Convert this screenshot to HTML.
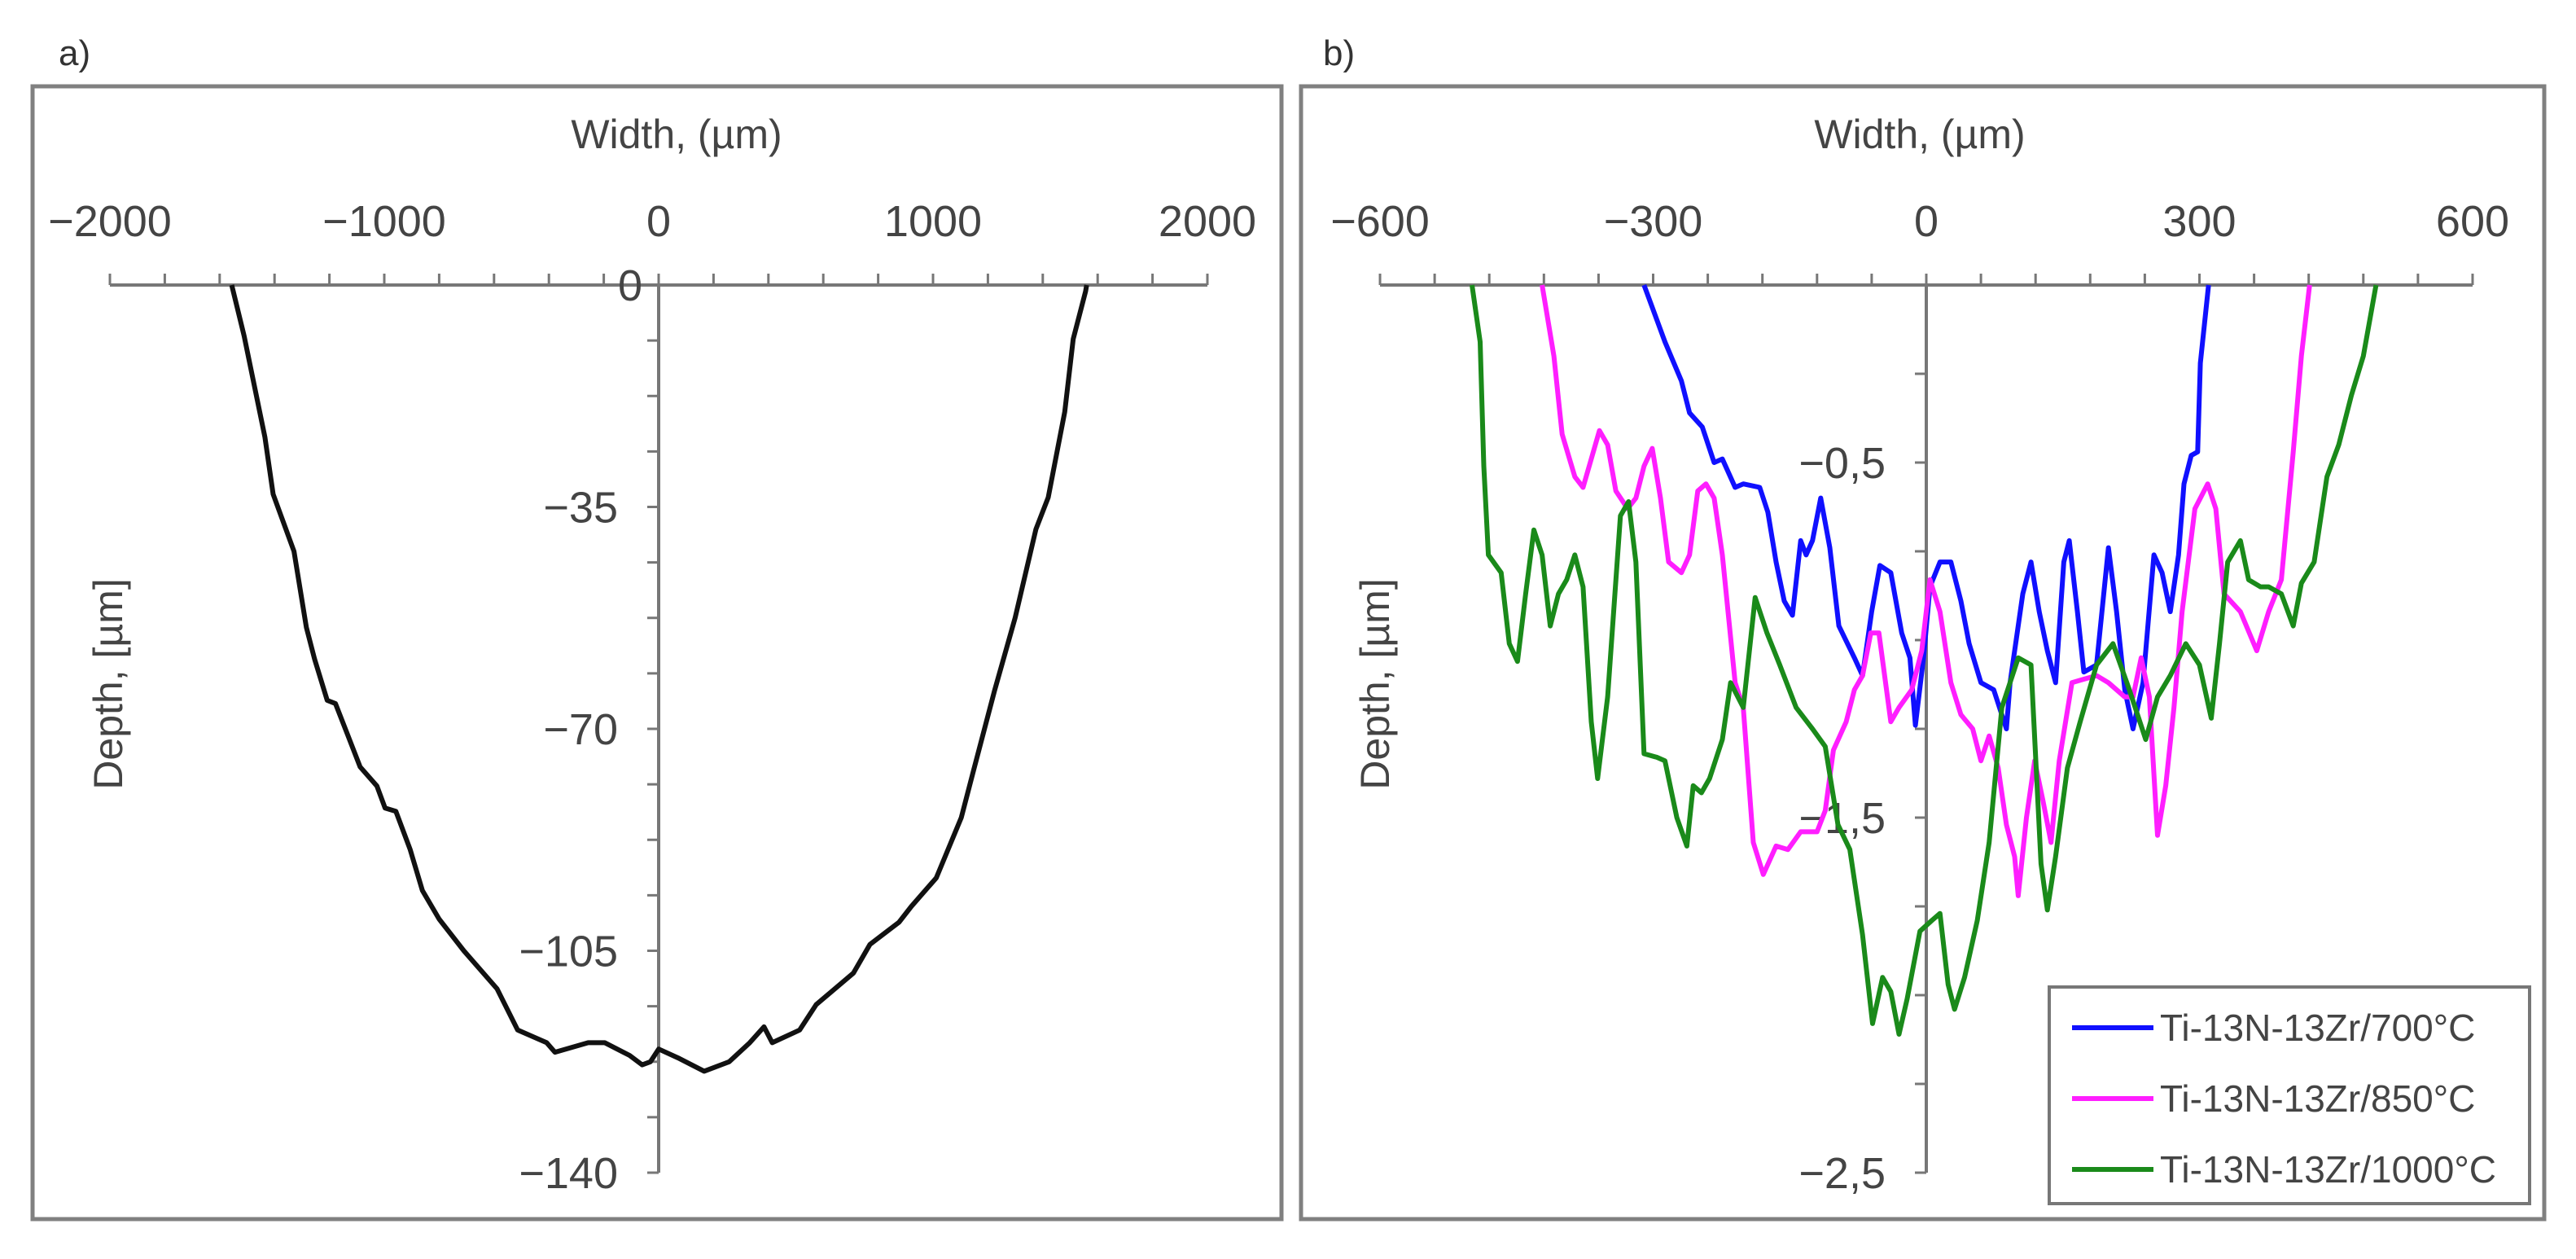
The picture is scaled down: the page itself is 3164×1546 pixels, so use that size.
<!DOCTYPE html>
<html><head><meta charset="utf-8"><style>
html,body{margin:0;padding:0;background:#fff;}
svg{display:block;font-family:"Liberation Sans",sans-serif;}
</style></head><body>
<svg id="s" width="3164" height="1546" viewBox="0 0 3164 1546">
<text x="72" y="80" font-size="44" fill="#333">a)</text>
<text x="1625" y="80" font-size="44" fill="#333">b)</text>
<rect x="40" y="106" width="1534" height="1391" fill="none" stroke="#808080" stroke-width="5"/>
<rect x="1598" y="106" width="1527" height="1391" fill="none" stroke="#808080" stroke-width="5"/>
<g id="ga"></g>
<g id="gb"></g>
<g>
<rect x="2517" y="1212" width="590" height="266" fill="#fff" stroke="#777" stroke-width="4"/>
<line x1="2545" y1="1262" x2="2645" y2="1262" stroke="#1010ff" stroke-width="6"/>
<text x="2653" y="1278" font-size="46" fill="#444">Ti-13N-13Zr/700°C</text>
<line x1="2545" y1="1349" x2="2645" y2="1349" stroke="#ff1eff" stroke-width="6"/>
<text x="2653" y="1365" font-size="46" fill="#444">Ti-13N-13Zr/850°C</text>
<line x1="2545" y1="1436" x2="2645" y2="1436" stroke="#1a8a1a" stroke-width="6"/>
<text x="2653" y="1452" font-size="46" fill="#444">Ti-13N-13Zr/1000°C</text>
</g>
</svg>
<script>
const aX=[-1556,-1511,-1435,-1405,-1329,-1284,-1254,-1208,-1178,-1133,-1088,-1027,-997,-958,-906,-861,-800,-710,-589,-514,-408,-378,-257,-196,-106,-60,-30,0,76,166,257,332,384,414,514,574,710,770,876,921,1012,1103,1148,1224,1299,1375,1420,1480,1511,1556,1560];
const aY=[0,-8,-24,-33,-42,-54,-59,-65.5,-66,-71,-76,-79,-82.5,-83,-89,-95.5,-100,-105,-111,-117.5,-119.5,-121,-119.5,-119.5,-121.5,-123,-122.5,-120.5,-122,-124,-122.5,-119.5,-117,-119.5,-117.5,-113.5,-108.5,-104,-100.5,-98,-93.5,-84,-76.5,-64,-52.5,-38.5,-33.5,-20,-8.5,-1,0];
const aXTicks=[-2000,-1000,0,1000,2000];
const aYTicks=[0,-35,-70,-105,-140];

const b700X=[-310,-287,-269,-260,-246,-233,-224,-210,-201,-183,-174,-165,-156,-147,-138,-132,-125,-116,-106,-96,-79,-70,-60,-51,-39,-27,-18,-12,-3,4,15,27,38,47,60,74,88,92,106,115,124,133,142,151,157,166,173,187,200,209,218,227,238,250,259,268,277,283,291,298,301,310];
const b700Y=[0,-0.16,-0.27,-0.36,-0.40,-0.50,-0.49,-0.57,-0.56,-0.57,-0.64,-0.78,-0.89,-0.93,-0.72,-0.76,-0.72,-0.60,-0.74,-0.96,-1.05,-1.10,-0.92,-0.79,-0.81,-0.98,-1.05,-1.24,-1.05,-0.85,-0.78,-0.78,-0.89,-1.01,-1.12,-1.14,-1.25,-1.12,-0.87,-0.78,-0.92,-1.03,-1.12,-0.78,-0.72,-0.92,-1.09,-1.07,-0.74,-0.92,-1.14,-1.25,-1.12,-0.76,-0.81,-0.92,-0.76,-0.56,-0.48,-0.47,-0.22,0];
const b850X=[-422,-409,-400,-386,-377,-368,-359,-350,-341,-328,-319,-310,-301,-292,-283,-269,-260,-251,-242,-233,-224,-210,-201,-190,-179,-165,-152,-138,-120,-111,-102,-88,-79,-70,-61,-52,-39,-30,-16,-5,4,15,27,38,51,60,69,79,88,97,101,110,119,128,137,146,160,173,187,200,218,227,236,245,254,263,272,281,295,309,318,327,345,363,376,390,403,412,421];
const b850Y=[0,-0.20,-0.42,-0.54,-0.57,-0.49,-0.41,-0.45,-0.58,-0.63,-0.60,-0.51,-0.46,-0.60,-0.78,-0.81,-0.76,-0.58,-0.56,-0.60,-0.76,-1.12,-1.19,-1.57,-1.66,-1.58,-1.59,-1.54,-1.54,-1.48,-1.31,-1.23,-1.14,-1.10,-0.98,-0.98,-1.23,-1.19,-1.14,-1.03,-0.83,-0.92,-1.12,-1.21,-1.25,-1.34,-1.27,-1.36,-1.52,-1.61,-1.72,-1.50,-1.34,-1.45,-1.57,-1.34,-1.12,-1.11,-1.10,-1.12,-1.16,-1.16,-1.05,-1.16,-1.55,-1.41,-1.19,-0.92,-0.63,-0.56,-0.63,-0.87,-0.92,-1.03,-0.92,-0.83,-0.47,-0.20,0];
const b1000X=[-499,-490,-486,-481,-467,-458,-449,-440,-431,-422,-413,-404,-395,-386,-377,-368,-361,-350,-336,-327,-319,-310,-296,-287,-274,-263,-256,-247,-238,-224,-215,-201,-188,-175,-161,-143,-125,-111,-97,-84,-70,-59,-48,-39,-30,-21,-7,6,15,24,31,42,56,69,83,101,115,126,133,142,155,169,187,205,223,241,254,268,285,300,313,322,331,345,354,367,376,390,403,412,426,440,453,467,480,494];
const b1000Y=[0,-0.16,-0.51,-0.76,-0.81,-1.01,-1.06,-0.87,-0.69,-0.76,-0.96,-0.87,-0.83,-0.76,-0.85,-1.23,-1.39,-1.16,-0.65,-0.61,-0.78,-1.32,-1.33,-1.34,-1.50,-1.58,-1.41,-1.43,-1.39,-1.28,-1.12,-1.19,-0.88,-0.98,-1.07,-1.19,-1.25,-1.30,-1.52,-1.59,-1.83,-2.08,-1.95,-1.99,-2.11,-2.01,-1.82,-1.79,-1.77,-1.97,-2.04,-1.95,-1.79,-1.57,-1.19,-1.05,-1.07,-1.63,-1.76,-1.61,-1.36,-1.23,-1.07,-1.01,-1.14,-1.28,-1.16,-1.10,-1.01,-1.07,-1.22,-1.01,-0.78,-0.72,-0.83,-0.85,-0.85,-0.87,-0.96,-0.84,-0.78,-0.54,-0.45,-0.31,-0.20,0];
const bXTicks=[-600,-300,0,300,600];
const bYTicks=["-0,5","-1,5","-2,5"];
const bYTickVals=[-0.5,-1.5,-2.5];

const NS="http://www.w3.org/2000/svg";
function mk(p,tag,at){const e=document.createElementNS(NS,tag);for(const k in at)e.setAttribute(k,at[k]);p.appendChild(e);return e;}
const xA=v=>809+v*0.337, yA=v=>350-v*(1090/140);
const xB=v=>2366+v*1.1183, yB=v=>350-v*436;
function axes(g,xs,ys,xMin,xMax,xMinor,yMin,yMinor,xT,yTLabels,yTVals,tx,lx){
  let e;
  e=mk(g,'line',{x1:xs(xMin),y1:350,x2:xs(xMax),y2:350,stroke:'#777','stroke-width':4});
  
  
  e=mk(g,'line',{x1:xs(0),y1:350,x2:xs(0),y2:ys(yMin),stroke:'#777','stroke-width':4});
  
  
  for(let v=xMin;v<=xMax+1e-9;v+=xMinor){
    e=mk(g,'line',{x1:xs(v),y1:350,x2:xs(v),y2:336,stroke:'#777','stroke-width':3});
    
    
  }
  for(let v=0;v>=yMin-1e-9;v-=yMinor){
    e=mk(g,'line',{x1:xs(0)-14,y1:ys(v),x2:xs(0),y2:ys(v),stroke:'#777','stroke-width':3});
    
    
  }
  xT.forEach(v=>{
    e=mk(g,'text',{x:xs(v),y:290,'font-size':54,fill:'#444','text-anchor':'middle'});
    e.textContent=(v<0?'\u2212'+(-v):String(v));
    
    
  });
  yTVals.forEach((v,i)=>{
    e=mk(g,'text',{x:xs(0)-(v===0?20:50),y:ys(v)+19,'font-size':54,fill:'#444','text-anchor':'end'});
    e.textContent=yTLabels[i];
    
    
  });
  e=mk(g,'text',{x:tx,y:182,'font-size':50,fill:'#444','text-anchor':'middle'});
  e.textContent='Width, (\u00b5m)';
  
  
  e=mk(g,'text',{x:0,y:0,'font-size':50,fill:'#444','text-anchor':'middle',transform:'translate('+lx+',840) rotate(-90)'});
  e.textContent='Depth, [\u00b5m]';
  
  
}
function line(g,X,Y,xs,ys,col,name){
  const d=X.map((v,i)=>(i?'L':'M')+xs(v).toFixed(1)+','+ys(Y[i]).toFixed(1)).join('');
  const e=mk(g,'path',{d:d,fill:'none',stroke:col,'stroke-width':6,'stroke-linejoin':'round'});
  
  
}
const ga=document.getElementById('ga'), gb=document.getElementById('gb');
axes(ga,xA,yA,-2000,2000,200,-140,8.75,aXTicks,aYTicks.map(v=>v===0?'0':'\u2212'+(-v)),aYTicks,831,150);
line(ga,aX,aY,xA,yA,'#111','profile-line');
axes(gb,xB,yB,-600,600,60,-2.5,0.25,bXTicks,bYTicks.map(s=>s.replace('-','\u2212')),bYTickVals,2358,1706);
line(gb,b700X,b700Y,xB,yB,'#1010ff','series-700');
line(gb,b850X,b850Y,xB,yB,'#ff1eff','series-850');
line(gb,b1000X,b1000Y,xB,yB,'#1a8a1a','series-1000');
</script>
</body></html>
